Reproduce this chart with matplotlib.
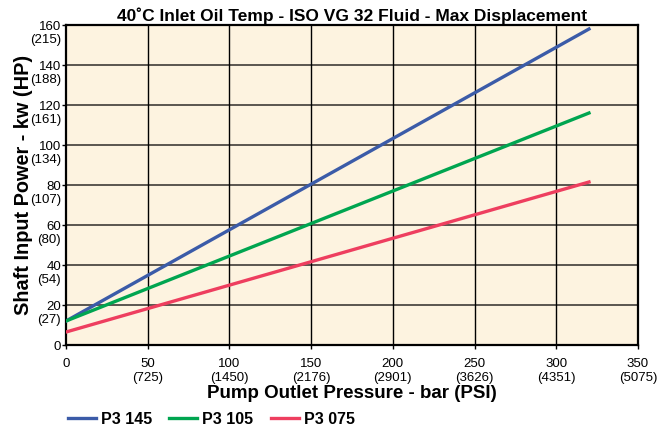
import matplotlib
matplotlib.use("Agg")
from matplotlib import pyplot as plt
from matplotlib import font_manager
from matplotlib import transforms

# Data
pressure_bar = [0, 320]
p3_145 = [12, 158]
p3_105 = [12, 116]
p3_075 = [6.5, 81.5]

x_ticks = [0, 50, 100, 150, 200, 250, 300, 350]
x_psi = ["", "(725)", "(1450)", "(2176)", "(2901)", "(3626)", "(4351)", "(5075)"]
y_ticks = [0, 20, 40, 60, 80, 100, 120, 140, 160]
y_hp = ["", "(27)", "(54)", "(80)", "(107)", "(134)", "(161)", "(188)", "(215)"]

plt.rcParams['font.family'] = ['Liberation Sans', 'DejaVu Sans']
names = {f.name for f in font_manager.fontManager.ttflist}
tick_family = ['Liberation Sans Narrow'] if 'Liberation Sans Narrow' in names else ['Liberation Sans']

fig = plt.figure(figsize=(6.65, 4.29), dpi=100)
ax = fig.add_axes([0.0993, 0.1958, 0.8601, 0.7459])
ax.set_facecolor("#fdf3e0")

# Grid: horizontal grey, vertical black
for y in y_ticks[1:-1]:
    ax.axhline(y, color="#5a5550", lw=1.4, zorder=1)
for x in x_ticks[1:-1]:
    ax.axvline(x, color="black", lw=1.0, zorder=1)

ax.plot(pressure_bar, p3_145, color="#3b5ba8", lw=2.4, label="P3 145", zorder=3)
ax.plot(pressure_bar, p3_105, color="#00a550", lw=2.4, label="P3 105", zorder=3)
ax.plot(pressure_bar, p3_075, color="#ee3e5f", lw=2.4, label="P3 075", zorder=3)

ax.set_xlim(0, 350)
ax.set_ylim(0, 160)
for s in ax.spines.values():
    s.set_linewidth(1.6)

ax.set_xticks(x_ticks)
ax.set_xticklabels([f"{x}\n{p}" for x, p in zip(x_ticks, x_psi)], fontsize=9.5,
                   linespacing=1.25, family=tick_family)
ax.set_yticks(y_ticks)
ax.set_yticklabels([f"{y}\n{h}" if h else f"{y}" for y, h in zip(y_ticks, y_hp)], fontsize=9.5,
                   linespacing=1.2, ha="right", family=tick_family)
ax.tick_params(axis="x", direction="out", length=3, width=1, pad=6)
ax.tick_params(axis="y", direction="out", length=3, width=1, pad=0.5)

# number sits on the tick, HP value hangs below it
shift = transforms.ScaledTranslation(0, -0.06, fig.dpi_scale_trans)
for lbl, h in zip(ax.get_yticklabels(), y_hp):
    if h:
        lbl.set_transform(lbl.get_transform() + shift)

ax.set_title("40˚C Inlet Oil Temp - ISO VG 32 Fluid - Max Displacement",
             fontsize=12.5, fontweight="bold", pad=3)
ax.set_xlabel("Pump Outlet Pressure - bar (PSI)", fontsize=13.5, fontweight="bold", labelpad=1)
ax.set_ylabel("Shaft Input Power - kw (HP)", fontsize=14.3, fontweight="bold")
ax.yaxis.set_label_coords(-33 / 572, 0.5)

fig.legend(loc="center left", bbox_to_anchor=(0.102, 0.022), ncol=3, frameon=False,
           prop={"weight": "bold", "size": 11.5}, handlelength=1.75, columnspacing=1.1,
           handletextpad=0.3, borderpad=0, borderaxespad=0)

fig.savefig("out.png", dpi=100)
